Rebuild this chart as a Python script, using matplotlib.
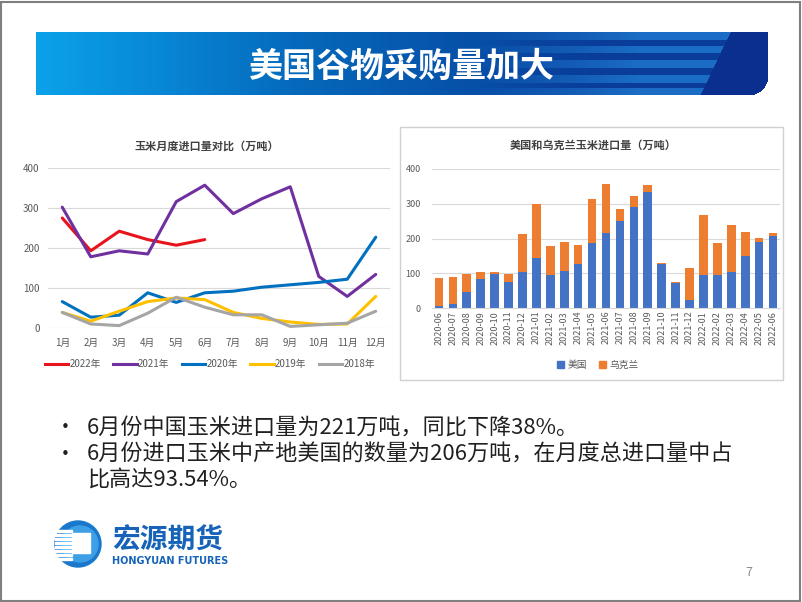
import numpy as np
import matplotlib
matplotlib.use('Agg')
import matplotlib.pyplot as plt
from matplotlib.patches import Rectangle, Circle, Patch
from matplotlib.lines import Line2D
from matplotlib.colors import to_rgb

plt.rcParams['font.family'] = ['Noto Sans CJK SC', 'DejaVu Sans']

# ---------------- data ----------------
months = ['1月', '2月', '3月', '4月', '5月', '6月', '7月', '8月', '9月', '10月', '11月', '12月']
y2022 = [275, 193, 242, 221, 207, 221]
y2021 = [302, 178, 193, 185, 316, 357, 286, 323, 353, 129, 79, 134]
y2020 = [66, 27, 32, 88, 64, 88, 92, 102, 108, 114, 122, 227]
y2019 = [39, 17, 42, 66, 75, 71, 39, 24, 15, 9, 10, 79]
y2018 = [39, 10, 6, 37, 77, 52, 33, 33, 4, 8, 12, 42]
series_names = ['2022年', '2021年', '2020年', '2019年', '2018年']
series_colors = ['#e8141b', '#7030a0', '#0070c0', '#ffc000', '#a5a5a5']

periods = ['2020-06', '2020-07', '2020-08', '2020-09', '2020-10', '2020-11', '2020-12',
           '2021-01', '2021-02', '2021-03', '2021-04', '2021-05', '2021-06', '2021-07',
           '2021-08', '2021-09', '2021-10', '2021-11', '2021-12', '2022-01', '2022-02',
           '2022-03', '2022-04', '2022-05', '2022-06']
usa = [5, 12, 46, 84, 98, 74, 103, 143, 95, 106, 128, 186, 215, 250, 292, 333,
       127, 71, 22, 94, 95, 103, 150, 189, 206]
ukraine = [81, 78, 53, 20, 7, 25, 109, 156, 82, 84, 54, 128, 141, 34, 30, 20,
           2, 5, 94, 173, 92, 136, 70, 13, 9]

W, H = 802, 602
fig = plt.figure(figsize=(W / 100, H / 100), dpi=100)


def ax_px(x0, y0, x1, y1):
    return fig.add_axes([x0 / W, 1 - y1 / H, (x1 - x0) / W, (y1 - y0) / H])


# ---------------- banner ----------------
bx0, by0, bx1, by1 = 36, 32, 768, 95
bw, bh = bx1 - bx0, by1 - by0
axb = ax_px(bx0, by0, bx1, by1)
axb.set_axis_off()
xs = np.arange(bw)
ys = np.arange(bh)
stops = [0, 120, 260, 420, 560, bw]
cols = np.array([to_rgb(c) for c in ['#0ba2ea', '#0888d6', '#0569bb', '#0752aa', '#0a429e', '#0b3a97']])
img = np.ones((bh, bw, 4))
for k in range(3):
    img[:, :, k] = np.interp(xs, stops, cols[:, k])[None, :]
# stripes
light = np.zeros(bh, dtype=bool)
for a, b in [(0, 8), (14, 21), (28, 36), (43, 51), (56, 63)]:
    light[a:b] = True
ramp = np.clip((xs - 440) / 160.0, 0, 1)
stripe_col = np.array(to_rgb('#1a6cc4'))
dark_col = np.array(to_rgb('#0a3c9a'))
for yy in range(bh):
    target = stripe_col if light[yy] else dark_col
    for k in range(3):
        img[yy, :, k] = img[yy, :, k] * (1 - ramp) + target[k] * ramp
# slanted navy end
XX, YY = np.meshgrid(xs, ys)
cut = 694 - (YY / bh) * 30
navy = np.array(to_rgb('#0b2f8f'))
mask = XX > cut
for k in range(3):
    img[:, :, k][mask] = navy[k]
# rounded bottom-right corner
r = 20
cx, cy = bw - r, bh - r
corner = (XX > cx) & (YY > cy) & ((XX - cx) ** 2 + (YY - cy) ** 2 > r ** 2)
img[:, :, 3][corner] = 0
axb.imshow(img, extent=(0, bw, bh, 0), aspect='auto', interpolation='bilinear')
axb.set_xlim(0, bw)
axb.set_ylim(bh, 0)
fig.text(401 / W, 1 - 66 / H, '美国谷物采购量加大', color='white', fontsize=24.5,
         fontweight='bold', ha='center', va='center')

# ---------------- left chart ----------------
ax1 = ax_px(48, 168, 390, 328)
all_series = [y2022, y2021, y2020, y2019, y2018]
for name, vals, c in zip(series_names, all_series, series_colors):
    ax1.plot(np.arange(len(vals)), vals, color=c, lw=2.2, label=name, solid_capstyle='round')
ax1.set_xlim(-0.5, 11.5)
ax1.set_ylim(0, 400)
ax1.set_yticks([0, 100, 200, 300, 400])
ax1.set_xticks(np.arange(12))
ax1.set_xticklabels(months)
ax1.grid(axis='y', color='#d9d9d9', lw=0.8)
ax1.set_axisbelow(True)
for s in ax1.spines.values():
    s.set_visible(False)
ax1.tick_params(length=0, labelsize=7, colors='#595959')
ax1.tick_params(axis='x', pad=7)
ax1.tick_params(axis='y', pad=6)
fig.text(207 / W, 1 - 146 / H, '玉米月度进口量对比（万吨）', fontsize=8, fontweight='bold',
         color='#404040', ha='center', va='center')
handles = [Line2D([0], [0], color=c, lw=2.2) for c in series_colors]
fig.legend(handles, series_names, loc='center', bbox_to_anchor=(210 / W, 1 - 364 / H),
           ncol=5, frameon=False, fontsize=7, handlelength=2.4, handletextpad=0.15,
           columnspacing=1.25, labelcolor='#595959')

# ---------------- right chart ----------------
fig.add_artist(Rectangle((400 / W, 1 - 380 / H), 383 / W, 253 / H, transform=fig.transFigure,
                         fill=False, edgecolor='#d0d0d0', lw=1))
ax2 = ax_px(432, 169, 780, 308)
x = np.arange(len(periods))
ax2.bar(x, usa, width=0.62, color='#4472c4', label='美国')
ax2.bar(x, ukraine, width=0.62, bottom=usa, color='#ed7d31', label='乌克兰')
ax2.set_xlim(-0.5, len(periods) - 0.5)
ax2.set_ylim(0, 400)
ax2.set_yticks([0, 100, 200, 300, 400])
ax2.set_xticks(x)
ax2.set_xticklabels(periods, rotation=90)
ax2.grid(axis='y', color='#d9d9d9', lw=0.8)
ax2.set_axisbelow(True)
for s in ax2.spines.values():
    s.set_visible(False)
ax2.spines['bottom'].set_visible(True)
ax2.spines['bottom'].set_color('#d9d9d9')
ax2.tick_params(length=0, labelsize=6.5, colors='#595959')
ax2.tick_params(axis='x', pad=2)
ax2.tick_params(axis='y', pad=8)
fig.text(593 / W, 1 - 145 / H, '美国和乌克兰玉米进口量（万吨）', fontsize=8, fontweight='bold',
         color='#404040', ha='center', va='center')
fig.legend([Patch(color='#4472c4'), Patch(color='#ed7d31')], ['美国', '乌克兰'],
           loc='center', bbox_to_anchor=(598 / W, 1 - 365 / H), ncol=2, frameon=False,
           fontsize=7, handlelength=0.7, handleheight=0.7, handletextpad=0.4,
           columnspacing=1.2, labelcolor='#595959')

# ---------------- bullet text ----------------
lines = [('•', '6月份中国玉米进口量为221万吨，同比下降38%。', 428),
         ('•', '6月份进口玉米中产地美国的数量为206万吨，在月度总进口量中占', 455),
         ('', '比高达93.54%。', 481)]
for b, t, yy in lines:
    if b:
        fig.text(65 / W, 1 - yy / H, b, fontsize=15, color='#202020', ha='center', va='center')
    fig.text(87 / W, 1 - yy / H, t, fontsize=15.9, color='#202020', ha='left', va='center')

# ---------------- logo ----------------
axl = ax_px(50, 518, 106, 570)
axl.set_xlim(0, 56)
axl.set_ylim(52, 0)
axl.set_aspect('equal')
axl.set_axis_off()
axl.add_patch(Circle((28, 26), 23, color='#1a78cc'))
axl.add_patch(Circle((30, 26), 18, color='#3da0e6'))
for i, yy in enumerate(range(12, 42, 4)):
    axl.add_patch(Rectangle((5, yy), 17, 2, color='white'))
axl.add_patch(Rectangle((22, 15), 18, 20, color='white'))
fig.text(112 / W, 1 - 541 / H, '宏源期货', fontsize=20, fontweight='bold', color='#1663b8',
         ha='left', va='center')
fig.text(112 / W, 1 - 561.5 / H, 'HONGYUAN FUTURES', fontsize=7, fontweight='bold',
         color='#1663b8', ha='left', va='center', family='DejaVu Sans')

fig.text(749 / W, 1 - 573 / H, '7', fontsize=9, color='#8c8c8c', ha='center', va='center')

# slide border
fig.add_artist(Rectangle((1 / W, 1 / H), (W - 3) / W, (H - 3) / H, transform=fig.transFigure,
                         fill=False, edgecolor='#7f7f7f', lw=1.5))

fig.savefig('out.png', dpi=100)
